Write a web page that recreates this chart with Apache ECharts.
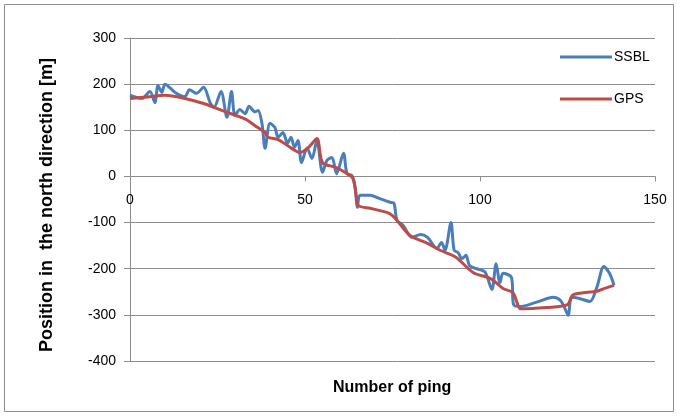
<!DOCTYPE html>
<html>
<head>
<meta charset="utf-8">
<script src="https://cdn.jsdelivr.net/npm/echarts@6/dist/echarts.min.js"></script>
<style>html,body{margin:0;padding:0;background:#fff}#c{width:677px;height:420px}</style>
</head>
<body>
<div id="c"></div>
<script>
const xTicks = [0, 50, 100, 150];
const yTicks = [-400, -300, -200, -100, 0, 100, 200, 300];

const ssblX = [0,1.5,3.4,5.7,7.1,8,9.1,10,12.9,15.7,17,19,21,23,24,26,27.7,29,30,31.4,32.9,34,35.7,36.6,37.7,38.6,40,41.4,42.3,43.7,45,46,47,48,49,50.6,52,53.4,55,56.3,57.7,59,61,62,63.4,64.3,65,65.7,68.6,71,74.3,75.4,76.3,78,80.6,83,85,87.7,89,90,91.7,92.6,93.7,94.9,96,97,99,101.4,103.4,104.6,105.7,106.6,109,109.6,111.4,116,121,123,124.3,125.2,126.2,128.6,131.4,133.4,135.4,137,138.3];
const ssblY = [176,172,169,184,160,197,182,200,182,173,188,180,193,158,150,184,128,184,132,145,136,152,140,143,115,61,115,106,85,95,72,85,63,78,30,61,39,78,9,35,41,6,50,6,2,-24,-67,-41,-41,-47,-56,-58,-95,-106,-132,-126,-132,-156,-143,-160,-100,-160,-165,-178,-171,-193,-200,-207,-245,-189,-230,-210,-219,-278,-282,-273,-262,-269,-287,-301,-262,-265,-271,-240,-195,-210,-236];

const gpsX = [0,5,10,15.7,21,27,33,35.7,38.6,39.4,42.3,45,48.6,51,53.4,55,58.6,61.4,63.7,64.6,65.2,68.6,73.4,75,77,80,85,88.6,93.1,98,102.9,104.6,106.6,109.4,110.9,111.6,119,125,126.4,128.6,133.4,135.4,138.3];
const gpsY = [169,172,176,169,158,141,124,110,95,85,80,67,52,63,82,30,20,9,-4,-40,-63,-69,-78,-85,-102,-128,-145,-160,-175,-208,-221,-230,-243,-252,-280,-287,-284,-278,-258,-253,-249,-243,-236];

const zip = (xs, ys) => xs.map((x, i) => [x, ys[i]]);
const font = '"Liberation Sans", sans-serif';
const gridTop = 38, gridBottom = 59, H = 420;
const plotH = H - gridTop - gridBottom;
const yMin = yTicks[0], yMax = yTicks[yTicks.length - 1];
const zeroOffset = -plotH * (0 - yMin) / (yMax - yMin);

const chart = echarts.init(document.getElementById('c'), null, {renderer: 'canvas'});
chart.setOption({
  animation: false,
  backgroundColor: '#fff',
  grid: {left: 130, right: 22, top: gridTop, bottom: gridBottom, containLabel: false},
  legend: {
    orient: 'vertical', left: 555, top: 45, itemGap: 28,
    itemWidth: 52, itemHeight: 3, icon: 'rect',
    textStyle: {fontFamily: font, fontSize: 14, color: '#000', padding: [0, 0, 0, -3]},
    data: ['SSBL', 'GPS']
  },
  graphic: [
    {type: 'rect', shape: {x: 4.5, y: 4.5, width: 669, height: 407}, style: {fill: 'none', stroke: '#8c8c8c', lineWidth: 1}, silent: true},
    {type: 'text', left: 333, top: 380, style: {text: 'Number of ping', font: 'bold 16px ' + font, fill: '#000'}},
    {type: 'text', x: 47, y: 205, rotation: Math.PI / 2,
     style: {text: 'Position in  the north direction [m]', font: 'bold 18px ' + font, fill: '#000', align: 'center', verticalAlign: 'middle'}}
  ],
  xAxis: {
    type: 'value', min: xTicks[0], max: xTicks[xTicks.length - 1], interval: 50,
    offset: zeroOffset,
    axisLine: {onZero: false, lineStyle: {color: '#8c8c8c', width: 1}},
    axisTick: {show: true, inside: false, length: 5, lineStyle: {color: '#8c8c8c'}},
    axisLabel: {fontFamily: font, fontSize: 14, color: '#000', margin: 17},
    splitLine: {show: false}
  },
  yAxis: {
    type: 'value', min: yMin, max: yMax, interval: 100,
    axisLine: {show: true, lineStyle: {color: '#8c8c8c', width: 1}},
    axisTick: {show: true, inside: false, length: 6, lineStyle: {color: '#8c8c8c'}},
    axisLabel: {fontFamily: font, fontSize: 14, color: '#000', margin: 14},
    splitLine: {show: true, lineStyle: {color: '#8c8c8c', width: 1}}
  },
  series: [
    {name: 'SSBL', type: 'line', data: zip(ssblX, ssblY), showSymbol: false, smooth: 0.3,
     lineStyle: {color: '#4a7ebb', width: 3}, itemStyle: {color: '#4a7ebb'}, z: 2},
    {name: 'GPS', type: 'line', data: zip(gpsX, gpsY), showSymbol: false, smooth: 0.3,
     lineStyle: {color: '#be4b48', width: 3}, itemStyle: {color: '#be4b48'}, z: 3}
  ]
});
</script>
</body>
</html>
